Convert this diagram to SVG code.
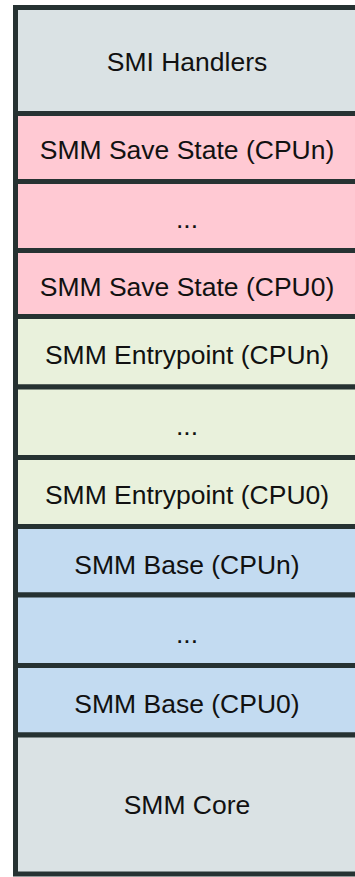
<svg xmlns="http://www.w3.org/2000/svg" width="355" height="877" viewBox="0 0 355 877">
<style>
rect{stroke:#263232;stroke-width:5}
.g{fill:#dae2e4}.p{fill:#ffc9d3}.e{fill:#e9f1dc}.b{fill:#c3dbf1}
text{font-family:"Liberation Sans",Arial,sans-serif;font-size:26.5px;fill:#111;text-anchor:middle}
</style>
<rect x="0" y="0" width="355" height="877" fill="#ffffff" style="stroke:none"/>
<g id="smi-handlers"><rect class="g" x="15.5" y="7.5" width="342" height="106"/><text x="187" y="71">SMI Handlers</text></g>
<g id="save-state-cpun"><rect class="p" x="15.5" y="113.5" width="342" height="68"/><text x="187" y="159">SMM Save State (CPUn)</text></g>
<g id="save-state-dots"><rect class="p" x="15.5" y="181.5" width="342" height="69"/><text x="187" y="228">...</text></g>
<g id="save-state-cpu0"><rect class="p" x="15.5" y="250.5" width="342" height="66"/><text x="187" y="296">SMM Save State (CPU0)</text></g>
<g id="entrypoint-cpun"><rect class="e" x="15.5" y="316.5" width="342" height="70.5"/><text x="187" y="364">SMM Entrypoint (CPUn)</text></g>
<g id="entrypoint-dots"><rect class="e" x="15.5" y="387" width="342" height="70.5"/><text x="187" y="435">...</text></g>
<g id="entrypoint-cpu0"><rect class="e" x="15.5" y="457.5" width="342" height="69"/><text x="187" y="504">SMM Entrypoint (CPU0)</text></g>
<g id="base-cpun"><rect class="b" x="15.5" y="526.5" width="342" height="68.5"/><text x="187" y="574">SMM Base (CPUn)</text></g>
<g id="base-dots"><rect class="b" x="15.5" y="595" width="342" height="70.5"/><text x="187" y="643">...</text></g>
<g id="base-cpu0"><rect class="b" x="15.5" y="665.5" width="342" height="69.5"/><text x="187" y="713">SMM Base (CPU0)</text></g>
<g id="smm-core"><rect class="g" x="15.5" y="735" width="342" height="139"/><text x="187" y="814">SMM Core</text></g>
<g id="connectors"></g>
</svg>
